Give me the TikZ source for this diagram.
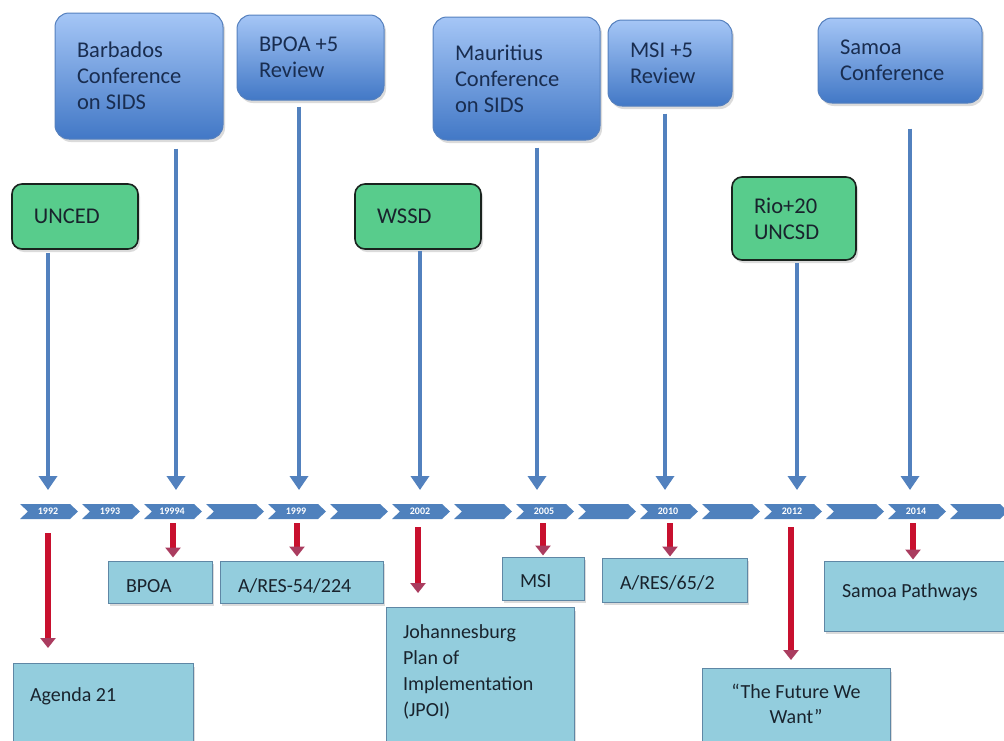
\documentclass[tikz,border=0pt]{standalone}
\usepackage{fontspec}
\setmainfont{Carlito}
\usetikzlibrary{arrows.meta,shadows}
\definecolor{chevblue}{RGB}{79,129,189}
\definecolor{arrblue}{RGB}{82,129,190}
\definecolor{boxtop}{RGB}{165,198,246}
\definecolor{boxbot}{RGB}{66,120,198}
\definecolor{boxline}{RGB}{85,128,190}
\definecolor{boxtext}{RGB}{25,45,80}
\definecolor{greenfill}{RGB}{88,204,140}
\definecolor{greenline}{RGB}{25,35,30}
\definecolor{lbfill}{RGB}{147,205,221}
\definecolor{lbline}{RGB}{95,135,165}
\definecolor{darktext}{RGB}{25,35,45}
\definecolor{redshaft}{RGB}{200,16,46}
\definecolor{redhead}{RGB}{170,60,95}
\begin{document}
\begin{tikzpicture}[x=1pt,y=-1pt,
  shad/.style={drop shadow={opacity=0.28,shadow xshift=2pt,shadow yshift=-3pt}},
  bluebox/.style={shad,draw=boxline,line width=1pt,rounded corners=14pt,
    top color=boxtop,bottom color=boxbot,text=boxtext,align=flush left,inner xsep=22pt,
    font=\fontsize{22.5}{26}\selectfont},
  greenbox/.style={shad,draw=greenline,line width=1.6pt,rounded corners=10pt,
    fill=greenfill,text=darktext,align=flush left,inner xsep=22pt,
    font=\fontsize{22.5}{26}\selectfont},
  lbbox/.style={shad,draw=lbline,line width=1pt,fill=lbfill,text=darktext,
    align=flush left,inner xsep=18pt,inner ysep=2pt,font=\fontsize{20}{26}\selectfont},
  chev/.style={fill=chevblue},
  yearlab/.style={text=white,font=\fontsize{10}{10}\bfseries\selectfont,inner sep=0pt},
  bluearr/.style={draw=arrblue,line width=4pt,-{Triangle[width=18pt,length=14pt]}},
  redarr/.style={draw=redshaft,line width=6pt,-{Triangle[width=15pt,length=10pt,color=redhead]}}]
\useasboundingbox (0,0) rectangle (1004,740);
\clip (0,0) rectangle (1004,740);
\fill[white] (0,0) rectangle (1004,740);

% timeline chevrons
\foreach \i/\lab in {0/1992,1/1993,2/19994,3/{},4/1999,5/{},6/2002,7/{},8/2005,9/{},10/2010,11/{},12/2012,13/{},14/2014,15/{}}{
  \pgfmathsetmacro{\sx}{20+62*\i}
  \path[chev] (\sx,504) -- ++(50,0) -- ++(8,7.5) -- ++(-8,7.5) -- ++(-50,0) -- ++(8,-7.5) -- cycle;
  \node[yearlab] (c\i) at (\sx+28,511.5) {\lab};
}

% top conference boxes
\node[bluebox,minimum width=168pt,minimum height=126pt,text width=124pt] (barb) at (139,76) {Barbados\\Conference\\on SIDS};
\node[bluebox,minimum width=147pt,minimum height=85pt,text width=103pt] (bpoa5) at (310.5,57.5) {BPOA +5\\Review};
\node[bluebox,minimum width=167pt,minimum height=123pt,text width=123pt] (maur) at (516.5,78.5) {Mauritius\\Conference\\on SIDS};
\node[bluebox,minimum width=124pt,minimum height=86pt,text width=80pt] (msi5) at (670,63) {MSI +5\\Review};
\node[bluebox,minimum width=164pt,minimum height=85pt,text width=120pt] (samoa) at (900,60.5) {Samoa\\Conference};

% green summit boxes
\node[greenbox,minimum width=126pt,minimum height=65pt,text width=82pt] (unced) at (75,216.5) {UNCED};
\node[greenbox,minimum width=126pt,minimum height=65pt,text width=82pt] (wssd) at (418,216.5) {WSSD};
\node[greenbox,minimum width=124pt,minimum height=83pt,text width=80pt] (rio) at (794,218.5) {Rio+20\\UNCSD};

% outcome boxes
\node[lbbox,minimum width=104pt,minimum height=42pt,text width=68pt,text height=20pt,text depth=0pt] (bpoa) at (160,582) {BPOA};
\node[lbbox,minimum width=163pt,minimum height=42pt,text width=127pt,text height=20pt,text depth=0pt] (ares54) at (301.5,582) {\mbox{A/RES-54/224}};
\node[lbbox,minimum width=82pt,minimum height=43pt,text width=46pt,text height=18pt,text depth=1pt] (msi) at (543,578.5) {MSI};
\node[lbbox,minimum width=145pt,minimum height=44pt,text width=109pt,text height=18pt,text depth=0pt] (ares65) at (674.5,580) {\mbox{A/RES/65/2}};
\node[lbbox,minimum width=186pt,minimum height=70pt,text width=150pt,text height=15pt,text depth=13pt] (samoap) at (917,596) {Samoa Pathways};
\node[lbbox,anchor=north,inner xsep=17pt,inner ysep=23pt,text width=146pt,text height=15pt,text depth=80pt] (agenda) at (103,663) {Agenda 21};
\node[lbbox,anchor=north,inner xsep=17pt,inner ysep=16pt,text width=154pt,text height=15pt,text depth=120pt] (jpoi) at (480,607) {Johannesburg\\Plan of\\Implementation\\(JPOI)};
\node[lbbox,anchor=north,align=flush center,inner xsep=17pt,inner ysep=15pt,text width=154pt,text height=15pt,text depth=90pt,font=\fontsize{20}{25}\selectfont] (future) at (796,668) {“The Future We\\Want”};

% blue arrows (events to timeline)
\coordinate (e1) at (48,490);
\coordinate (e2) at (176,490);
\coordinate (e3) at (299,490);
\coordinate (e4) at (420,490);
\coordinate (e5) at (537,490);
\coordinate (e6) at (665,490);
\coordinate (e7) at (797,490);
\coordinate (e8) at (910,490);
\draw[bluearr] (unced.south -| e1) ++(0,3) -- (e1);
\draw[bluearr] (barb.south -| e2) ++(0,9) -- (e2);
\draw[bluearr] (bpoa5.south -| e3) ++(0,6) -- (e3);
\draw[bluearr] (wssd.south -| e4) ++(0,1) -- (e4);
\draw[bluearr] (maur.south -| e5) ++(0,7) -- (e5);
\draw[bluearr] (msi5.south -| e6) ++(0,7) -- (e6);
\draw[bluearr] (rio.south -| e7) ++(0,2) -- (e7);
\draw[bluearr] (samoa.south -| e8) ++(0,25) -- (e8);

% red arrows (timeline to outcomes)
\coordinate (r1) at (48,533);
\coordinate (r2) at (173,523);
\coordinate (r3) at (297,523);
\coordinate (r4) at (418,527);
\coordinate (r5) at (543,523);
\coordinate (r6) at (670,523);
\coordinate (r7) at (791,527);
\coordinate (r8) at (913,523);
\draw[redarr,shorten >=15pt] (r1) -- (r1 |- agenda.north);
\draw[redarr,shorten >=3pt] (r2) -- (r2 |- bpoa.north);
\draw[redarr,shorten >=4pt] (r3) -- (r3 |- ares54.north);
\draw[redarr,shorten >=14pt] (r4) -- (r4 |- jpoi.north);
\draw[redarr,shorten >=1pt] (r5) -- (r5 |- msi.north);
\draw[redarr,shorten >=1pt] (r6) -- (r6 |- ares65.north);
\draw[redarr,shorten >=8pt] (r7) -- (r7 |- future.north);
\draw[redarr,shorten >=1pt] (r8) -- (r8 |- samoap.north);
\end{tikzpicture}
\end{document}
